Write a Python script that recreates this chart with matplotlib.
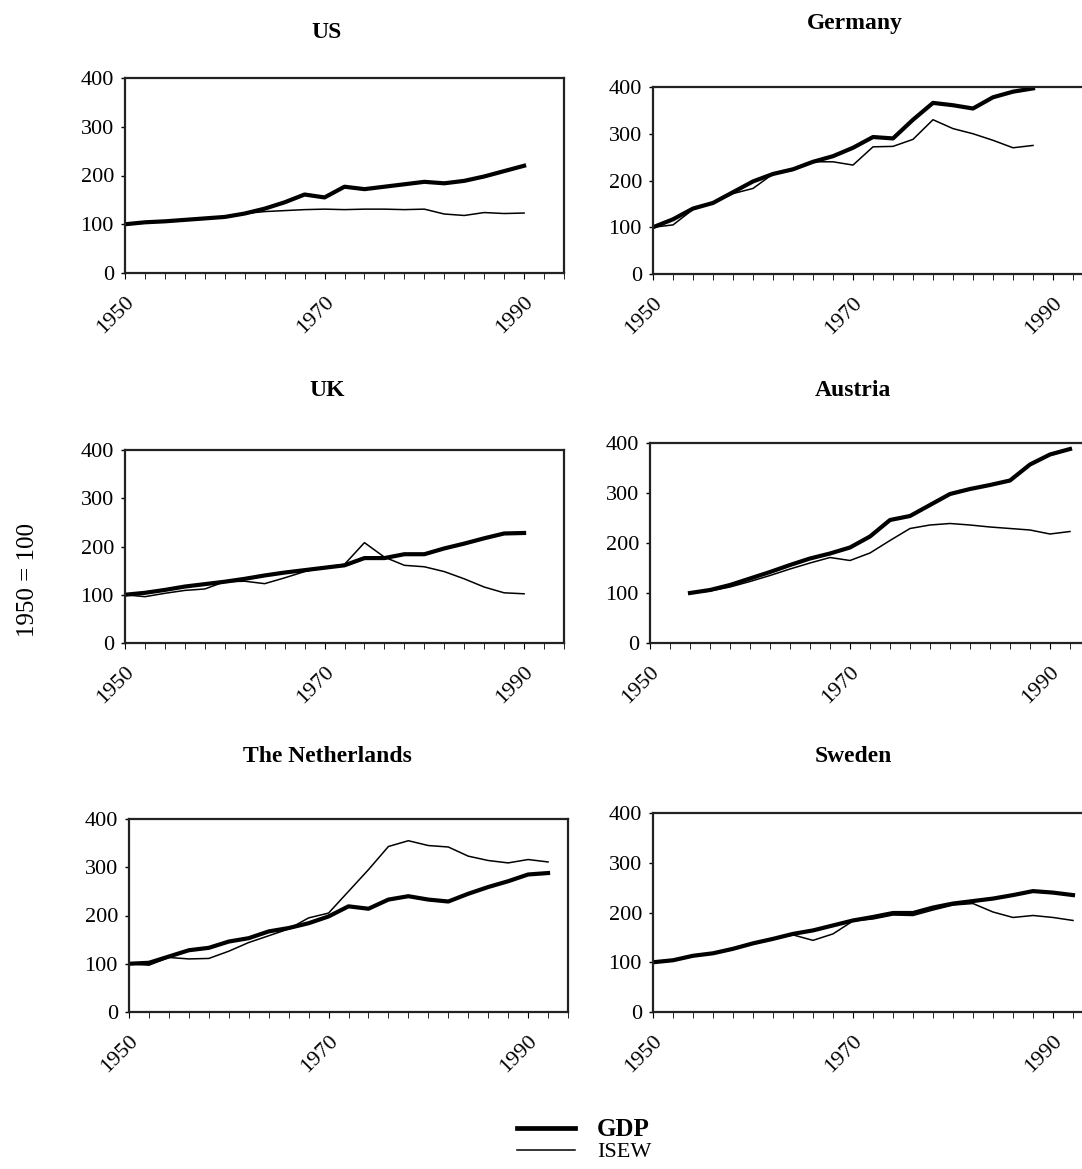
import matplotlib
matplotlib.use("Agg")
import matplotlib.pyplot as plt
from matplotlib.lines import Line2D
from matplotlib.ticker import MultipleLocator

plt.rcParams['font.family'] = ['Liberation Serif', 'DejaVu Serif']

# --- data (index, 1950 = 100) ---
us_years = [1950, 1952, 1954, 1956, 1958, 1960, 1962, 1964, 1966, 1968, 1970, 1972,
            1974, 1976, 1978, 1980, 1982, 1984, 1986, 1988, 1990]
us_gdp = [100, 104, 106, 109, 112, 115, 122, 132, 145, 161, 155, 177,
          172, 177, 182, 187, 184, 189, 198, 209, 220]
us_isew = [100, 104, 106, 109, 112, 115, 122, 126, 128, 130, 131, 130,
           131, 131, 130, 131, 121, 118, 124, 122, 123]

de_years = [1950, 1952, 1954, 1956, 1958, 1960, 1962, 1964, 1966, 1968, 1970, 1972,
            1974, 1976, 1978, 1980, 1982, 1984, 1986, 1988]
de_gdp = [100, 117, 140, 152, 175, 198, 214, 224, 240, 252, 270, 293,
          290, 330, 366, 361, 354, 378, 390, 397]
de_isew = [100, 105, 138, 152, 172, 183, 214, 222, 240, 240, 233, 272,
           273, 288, 330, 311, 300, 286, 270, 275]

uk_years = [1950, 1952, 1954, 1956, 1958, 1960, 1962, 1964, 1966, 1968, 1970, 1972,
            1974, 1976, 1978, 1980, 1982, 1984, 1986, 1988, 1990]
uk_gdp = [100, 104, 110, 117, 122, 127, 133, 140, 146, 151, 156, 161,
          176, 176, 184, 184, 196, 206, 217, 227, 228]
uk_isew = [100, 96, 103, 109, 112, 127, 128, 123, 135, 148, 157, 163,
           208, 178, 161, 158, 148, 133, 116, 104, 102]

at_years = [1954, 1956, 1958, 1960, 1962, 1964, 1966, 1968, 1970, 1972, 1974, 1976,
            1978, 1980, 1982, 1984, 1986, 1988, 1990, 1992]
at_gdp = [100, 106, 116, 129, 142, 156, 169, 179, 191, 213, 246, 254,
          276, 298, 308, 316, 325, 357, 377, 388]
at_isew = [100, 104, 112, 123, 135, 148, 160, 171, 165, 180, 205, 229,
           236, 239, 236, 232, 229, 226, 218, 223]

nl_years = [1950, 1952, 1954, 1956, 1958, 1960, 1962, 1964, 1966, 1968, 1970, 1972,
            1974, 1976, 1978, 1980, 1982, 1984, 1986, 1988, 1990, 1992]
nl_gdp = [100, 102, 115, 128, 133, 146, 153, 167, 174, 184, 198, 219,
          214, 233, 240, 233, 229, 245, 259, 271, 285, 288]
nl_isew = [100, 97, 113, 110, 111, 126, 144, 158, 172, 195, 205, 250,
           295, 343, 355, 345, 342, 323, 314, 309, 316, 311]

se_years = [1950, 1952, 1954, 1956, 1958, 1960, 1962, 1964, 1966, 1968, 1970, 1972,
            1974, 1976, 1978, 1980, 1982, 1984, 1986, 1988, 1990, 1992]
se_gdp = [100, 104, 113, 118, 127, 138, 147, 157, 164, 174, 184, 191,
          199, 199, 210, 218, 223, 228, 235, 243, 240, 235]
se_isew = [100, 104, 113, 118, 127, 138, 147, 155, 144, 157, 183, 187,
           195, 194, 205, 215, 218, 201, 190, 194, 190, 184]

W, H = 1082, 1169
fig = plt.figure(figsize=(W / 100, H / 100), dpi=100)


def add_panel(rect_px, title, title_xy, years, gdp, isew):
    l, t, b, r = rect_px
    ax = fig.add_axes([l / W, 1 - b / H, (r - l) / W, (b - t) / H])
    ax.plot(years, gdp, color='black', lw=3.0, solid_joinstyle='round')
    ax.plot(years, isew, color='black', lw=1.1)
    ax.set_xlim(1950, 1994)
    ax.set_ylim(0, 400)
    ax.set_yticks([0, 100, 200, 300, 400])
    ax.set_xticks([1950, 1970, 1990])
    ax.xaxis.set_minor_locator(MultipleLocator(2))
    ax.tick_params(axis='y', labelsize=16, length=3, width=1, pad=5)
    ax.tick_params(axis='x', which='major', labelsize=16, length=4, pad=10)
    ax.tick_params(axis='x', which='minor', length=4)
    for lab in ax.get_xticklabels():
        lab.set_rotation(45)
        lab.set_ha('right')
        lab.set_va('top')
        lab.set_rotation_mode('anchor')
    for sp in ax.spines.values():
        sp.set_linewidth(1.6)
        sp.set_color('#222222')
    fig.text(title_xy[0] / W, 1 - title_xy[1] / H, title, ha='center', va='center',
             fontsize=17, fontweight='bold')
    return ax


add_panel((125, 78, 273, 564), 'US', (327, 32), us_years, us_gdp, us_isew)
add_panel((653, 87, 274, 1093), 'Germany', (855, 23), de_years, de_gdp, de_isew)
add_panel((125, 450, 643, 564), 'UK', (327, 390), uk_years, uk_gdp, uk_isew)
add_panel((650, 443, 643, 1090), 'Austria', (853, 390), at_years, at_gdp, at_isew)
add_panel((129, 819, 1012, 568), 'The Netherlands', (327, 757), nl_years, nl_gdp, nl_isew)
add_panel((653, 813, 1012, 1093), 'Sweden', (853, 757), se_years, se_gdp, se_isew)

fig.text(28 / W, 1 - 580 / H, '1950 = 100', rotation=90, ha='center', va='center',
         fontsize=18)

handles = [Line2D([], [], color='black', lw=3.4), Line2D([], [], color='black', lw=1.1)]
leg = fig.legend(handles, ['GDP', 'ISEW'], loc='center', bbox_to_anchor=(584 / W, 1 - 1140 / H),
                 frameon=False, fontsize=16, handlelength=2.6, handletextpad=1.0,
                 labelspacing=0.05)
leg.get_texts()[0].set_fontweight('bold')
leg.get_texts()[0].set_fontsize(18)

fig.savefig('out.png', dpi=100)
